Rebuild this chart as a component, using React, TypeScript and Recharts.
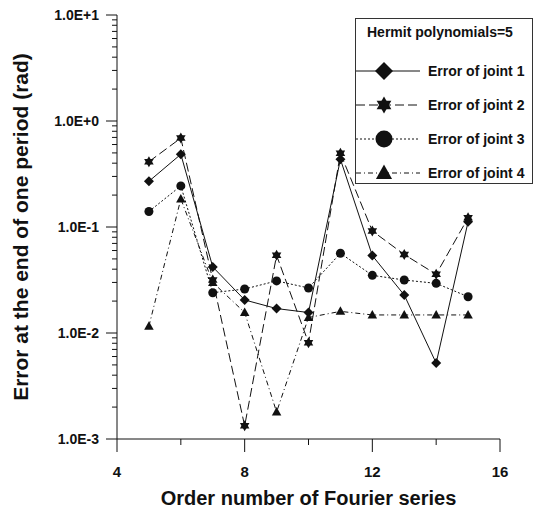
import { LineChart, Line, XAxis, YAxis, Legend } from "recharts";

// Order number of Fourier series
const ORDERS = [5, 6, 7, 8, 9, 10, 11, 12, 13, 14, 15];

// error at the end of one period (rad)
const JOINT1 = [0.27, 0.485, 0.042, 0.0205, 0.017, 0.0156, 0.435, 0.0537, 0.0228, 0.0052, 0.112];
const JOINT2 = [0.413, 0.69, 0.0316, 0.00133, 0.054, 0.0081, 0.495, 0.0917, 0.055, 0.0358, 0.122];
const JOINT3 = [0.14, 0.244, 0.024, 0.026, 0.031, 0.0266, 0.0565, 0.035, 0.0316, 0.0294, 0.022];
const JOINT4 = [0.0116, 0.184, 0.03, 0.0156, 0.0018, 0.014, 0.016, 0.0148, 0.0148, 0.0148, 0.0148];

const SERIES_NAMES = ["Error of joint 1", "Error of joint 2", "Error of joint 3", "Error of joint 4"];
const LEGEND_TITLE = "Hermit polynomials=5";

const X_TICKS = [4, 6, 8, 10, 12, 14, 16];
const X_LABELED = [4, 8, 12, 16];
const Y_MAJOR = [0.001, 0.01, 0.1, 1, 10];
const Y_TICKS = [
  ...Y_MAJOR,
  ...Y_MAJOR.slice(0, -1).flatMap((d) => [2, 3, 4, 5, 6, 7, 8, 9].map((m) => d * m)),
];

const FONT = "'Liberation Sans', Arial, sans-serif";
const INK = "#111";

// layout
const W = 536;
const H = 520;
const MARGIN = { top: 15, right: 36, bottom: 0, left: 0 };
const Y_AXIS_W = 117;
const X_AXIS_H = 81;
const AXIS_X = MARGIN.left + Y_AXIS_W;
const AXIS_Y = H - MARGIN.bottom - X_AXIS_H;

type MarkerKind = "diamond" | "star" | "circle" | "triangle";

const SERIES: { key: string; kind: MarkerKind; dash?: string; r: number }[] = [
  { key: "j1", kind: "diamond", r: 5 },
  { key: "j2", kind: "star", dash: "9 4", r: 5.5 },
  { key: "j3", kind: "circle", dash: "2 2", r: 4.5 },
  { key: "j4", kind: "triangle", dash: "5 3 1 3", r: 5 },
];

const data = ORDERS.map((o, i) => ({
  order: o,
  j1: JOINT1[i],
  j2: JOINT2[i],
  j3: JOINT3[i],
  j4: JOINT4[i],
}));

function Marker({ kind, cx, cy, r }: { kind: MarkerKind; cx: number; cy: number; r: number }) {
  if (cx == null || cy == null) return null;
  if (kind === "circle") return <circle cx={cx} cy={cy} r={r} fill={INK} />;
  if (kind === "diamond") {
    const pts = `${cx},${cy - r} ${cx + r},${cy} ${cx},${cy + r} ${cx - r},${cy}`;
    return <polygon points={pts} fill={INK} />;
  }
  if (kind === "triangle") {
    const pts = `${cx},${cy - r} ${cx + r * 0.95},${cy + r * 0.7} ${cx - r * 0.95},${cy + r * 0.7}`;
    return <polygon points={pts} fill={INK} />;
  }
  // six-pointed star = two triangles
  const tri = (sign: number) =>
    [90, 210, 330]
      .map((a) => {
        const t = (a * Math.PI) / 180;
        return `${cx + r * Math.cos(t)},${cy - sign * r * Math.sin(t)}`;
      })
      .join(" ");
  return (
    <g>
      <polygon points={tri(1)} fill={INK} />
      <polygon points={tri(-1)} fill={INK} />
    </g>
  );
}

const isMajor = (v: number) => Math.abs(Math.log10(v) - Math.round(Math.log10(v))) < 1e-6;

function fmtExp(v: number) {
  const e = Math.round(Math.log10(v));
  return `1.0E${e >= 0 ? "+" : "-"}${Math.abs(e)}`;
}

function YTick(props: any) {
  const { y, payload } = props;
  const major = isMajor(payload.value);
  return (
    <g>
      <path d={`M${AXIS_X},${y}H${AXIS_X - (major ? 11 : 5)}`} stroke={INK} strokeWidth={1} fill="none" />
      {major && (
        <text x={AXIS_X - 18} y={y + 5} textAnchor="end" fontFamily={FONT} fontWeight="bold" fontSize={14} fill={INK}>
          {fmtExp(payload.value)}
        </text>
      )}
    </g>
  );
}

function XTick(props: any) {
  const { x, payload } = props;
  const major = X_LABELED.includes(payload.value);
  return (
    <g>
      <path d={`M${x},${AXIS_Y}V${AXIS_Y + (major ? 13 : 6)}`} stroke={INK} strokeWidth={1} fill="none" />
      {major && (
        <text x={x} y={AXIS_Y + 38} textAnchor="middle" fontFamily={FONT} fontWeight="bold" fontSize={15} fill={INK}>
          {payload.value}
        </text>
      )}
    </g>
  );
}

function YTitle(props: any) {
  const vb = props.viewBox;
  const cx = 28;
  const cy = vb.y + vb.height / 2;
  return (
    <text x={cx} y={cy} transform={`rotate(-90, ${cx}, ${cy})`} textAnchor="middle"
      fontFamily={FONT} fontWeight="bold" fontSize={21} fill={INK}>
      Error at the end of one period (rad)
    </text>
  );
}

function XTitle(props: any) {
  const vb = props.viewBox;
  return (
    <text x={vb.x + vb.width / 2} y={AXIS_Y + 66} textAnchor="middle"
      fontFamily={FONT} fontWeight="bold" fontSize={20} fill={INK}>
      Order number of Fourier series
    </text>
  );
}

function LegendBox() {
  const rows = [53, 87, 121, 155];
  const big = [9, 8.5, 8.5, 8.5];
  return (
    <svg width={179} height={167}>
      <rect x={0.5} y={0.5} width={177} height={165} fill="#fff" stroke="#333" strokeWidth={1} />
      <text x={12} y={19} fontFamily={FONT} fontWeight="bold" fontSize={14} fill={INK}>
        {LEGEND_TITLE}
      </text>
      {SERIES.map((s, i) => (
        <g key={s.key}>
          <line x1={1} x2={65} y1={rows[i]} y2={rows[i]} stroke={INK} strokeWidth={1} strokeDasharray={s.dash} />
          <Marker kind={s.kind} cx={29} cy={rows[i]} r={big[i]} />
          <text x={73} y={rows[i] + 5} fontFamily={FONT} fontWeight="bold" fontSize={14} fill={INK}>
            {SERIES_NAMES[i]}
          </text>
        </g>
      ))}
    </svg>
  );
}

export default function App() {
  return (
    <div style={{ position: "absolute", left: 0, top: 0, background: "#fff" }}>
      <LineChart width={W} height={H} data={data} margin={MARGIN}>
        <XAxis
          dataKey="order"
          type="number"
          domain={[4, 16]}
          ticks={X_TICKS}
          interval={0}
          height={X_AXIS_H}
          tickSize={0}
          tickMargin={0}
          tickLine={false}
          axisLine={{ stroke: INK, strokeWidth: 1 }}
          tick={<XTick />}
          label={<XTitle />}
        />
        <YAxis
          scale="log"
          domain={[0.001, 10]}
          ticks={Y_TICKS}
          interval={0}
          width={Y_AXIS_W}
          tickSize={0}
          tickMargin={0}
          tickLine={false}
          axisLine={{ stroke: INK, strokeWidth: 1 }}
          tick={<YTick />}
          label={<YTitle />}
          allowDataOverflow
        />
        <Legend
          layout="vertical"
          align="center"
          verticalAlign="middle"
          content={() => <LegendBox />}
          wrapperStyle={{ top: 18, left: 355, width: 179, height: 167 }}
        />
        {SERIES.map((s, i) => (
          <Line
            key={s.key}
            dataKey={s.key}
            name={SERIES_NAMES[i]}
            type="linear"
            stroke={INK}
            strokeWidth={1}
            strokeDasharray={s.dash}
            isAnimationActive={false}
            activeDot={false}
            dot={(p: any) => <Marker key={`${s.key}-${p.index}`} kind={s.kind} cx={p.cx} cy={p.cy} r={s.r} />}
          />
        ))}
      </LineChart>
    </div>
  );
}
